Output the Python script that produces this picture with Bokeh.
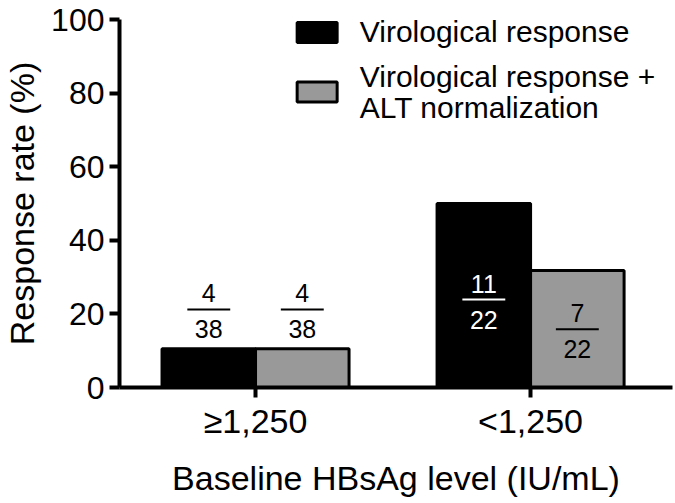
from bokeh.plotting import figure
from bokeh.models import Range1d, FixedTicker, ColumnDataSource
from bokeh.core.properties import value
from bokeh.embed import file_html
from bokeh.resources import INLINE

# ---- data ----
groups = ["≥1,250", "<1,250"]
series_names = ["Virological response", "Virological response +", "ALT normalization"]
vr_num = [4, 11]
alt_num = [4, 7]
denom = [38, 22]
vr_rate = [n / d * 100 for n, d in zip(vr_num, denom)]
alt_rate = [n / d * 100 for n, d in zip(alt_num, denom)]
yticks = [0, 20, 40, 60, 80, 100]
# fraction bar heights (data units)
vr_frac_y = [21.2, 23.9]
alt_frac_y = [21.2, 15.8]

FONT = "Liberation Sans"
BLACK = "#000000"
GRAY = "#999999"

gx = [1, 2]
bw = 0.34
half = bw / 2

p = figure(width=675, height=503, output_backend="svg", toolbar_location=None,
           x_range=Range1d(0.5054, 2.516), y_range=Range1d(0, 100),
           min_border_left=115, min_border_right=3, min_border_top=19,
           min_border_bottom=116)
p.outline_line_color = None
p.grid.visible = False
p.background_fill_color = "white"

# bars
src_vr = ColumnDataSource(dict(x=[g - half for g in gx], top=vr_rate))
src_alt = ColumnDataSource(dict(x=[g + half for g in gx], top=alt_rate))
p.vbar(x="x", top="top", bottom=0, width=bw, source=src_vr,
       fill_color=BLACK, line_color=BLACK, line_width=3)
p.vbar(x="x", top="top", bottom=0, width=bw, source=src_alt,
       fill_color=GRAY, line_color=BLACK, line_width=3)

# fractions
fx = [g - half for g in gx] + [g + half for g in gx]
fy = vr_frac_y + alt_frac_y
fnum = [str(v) for v in vr_num] + [str(v) for v in alt_num]
fden = [str(v) for v in denom] + [str(v) for v in denom]
fcol = ["black", "white", "black", "black"]
fw = 0.078
fsrc = ColumnDataSource(dict(x=fx, y=fy, num=fnum, den=fden, col=fcol,
                             x0=[x - fw for x in fx], x1=[x + fw for x in fx]))
p.segment(x0="x0", y0="y", x1="x1", y1="y", line_color="col", line_width=2, source=fsrc)
p.text(x="x", y="y", text="num", text_color="col", source=fsrc, y_offset=-16,
       text_align="center", text_baseline="middle", text_font=value(FONT),
       text_font_size="25px")
p.text(x="x", y="y", text="den", text_color="col", source=fsrc, y_offset=20,
       text_align="center", text_baseline="middle", text_font=value(FONT),
       text_font_size="25px")

# legend (manual)
leg_x = 1.224
leg_y = [96.5, 80.3]
p.rect(x=[leg_x, leg_x], y=leg_y, width=40, height=20, width_units="screen",
       height_units="screen", fill_color=[BLACK, GRAY], line_color=BLACK, line_width=3)
p.text(x=[1.379] * 3, y=[96.7, 84.5, 76.0], text=series_names,
       text_align="left", text_baseline="middle", text_font=value(FONT),
       text_font_size="30px", text_color="black")

# axes
for ax in (p.xaxis[0], p.yaxis[0]):
    ax.axis_line_width = 4
    ax.major_tick_line_width = 4
    ax.major_tick_in = 0
    ax.minor_tick_line_color = None
    ax.major_label_text_font = FONT
    ax.major_label_text_font_size = "34px"
    ax.major_label_text_color = "black"
    ax.axis_label_text_font = FONT
    ax.axis_label_text_font_size = "34px"
    ax.axis_label_text_font_style = "normal"
    ax.axis_label_text_color = "black"

p.yaxis.ticker = FixedTicker(ticks=yticks)
p.yaxis.major_tick_out = 10
p.yaxis.major_label_standoff = 5
p.yaxis.major_label_text_font_size = "32px"
p.yaxis.axis_label = "Response rate (%)"
p.yaxis.axis_label_standoff = 7

p.xaxis.ticker = FixedTicker(ticks=gx)
p.xaxis.major_label_overrides = {g: lab for g, lab in zip(gx, groups)}
p.xaxis.major_tick_out = 10
p.xaxis.major_label_standoff = 4
p.xaxis.axis_label = "Baseline HBsAg level (IU/mL)"
p.xaxis.axis_label_standoff = 16

open("out.html", "w").write(file_html(p, INLINE))
